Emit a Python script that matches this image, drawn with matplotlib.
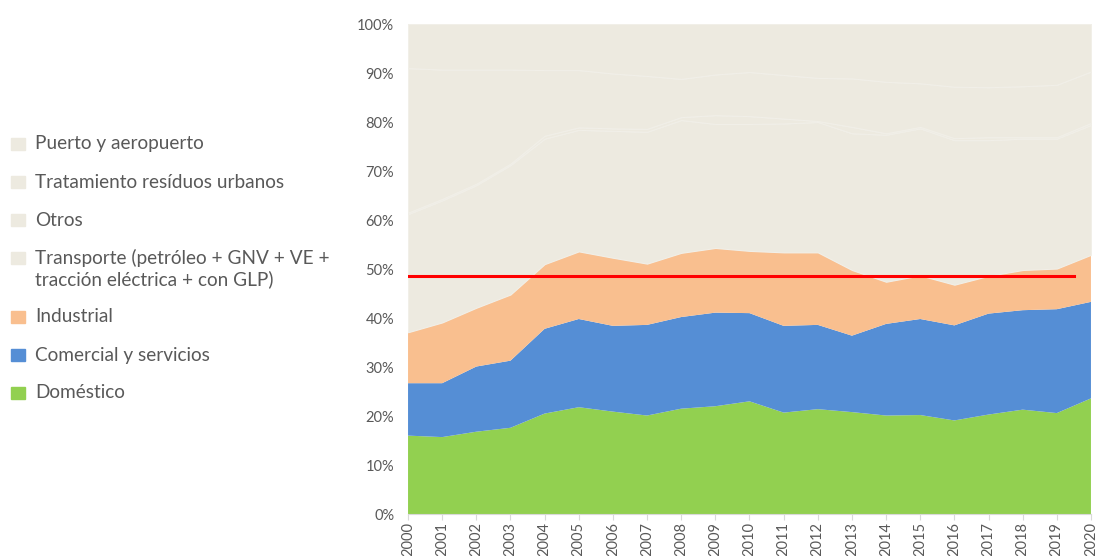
import numpy as np
import matplotlib.pyplot as plt
from matplotlib.patches import Rectangle
from matplotlib.ticker import PercentFormatter

plt.rcParams['font.family'] = ['Lato', 'DejaVu Sans']

years = list(range(2000, 2021))

# shares in %
domestico = [16.0, 15.7, 16.8, 17.6, 20.5, 21.8, 20.9, 20.1, 21.5, 22.0, 23.0,
             20.7, 21.4, 20.8, 20.1, 20.2, 19.1, 20.3, 21.3, 20.6, 23.6]
comercial = [10.7, 11.0, 13.3, 13.7, 17.3, 18.0, 17.5, 18.5, 18.7, 19.1, 18.0,
             17.7, 17.2, 15.6, 18.7, 19.6, 19.4, 20.6, 20.3, 21.2, 19.7]
industrial = [10.4, 12.4, 12.0, 13.5, 13.2, 13.8, 13.9, 12.5, 13.1, 13.2, 12.7,
              15.0, 14.8, 13.4, 8.6, 8.9, 8.3, 7.7, 8.2, 8.3, 9.6]
transporte = [24.1, 24.9, 25.0, 26.4, 25.6, 24.8, 25.9, 26.9, 27.1, 25.3, 25.9,
              26.3, 26.6, 27.9, 30.0, 30.0, 29.5, 27.7, 26.8, 26.5, 26.5]
otros = [0.3, 0.3, 0.3, 0.3, 0.6, 0.5, 0.5, 0.6, 0.6, 1.8, 1.6,
         1.0, 0.2, 1.3, 0.3, 0.3, 0.4, 0.6, 0.3, 0.3, 0.4]
residuos = [29.5, 26.4, 23.3, 19.2, 13.4, 11.7, 11.2, 10.8, 7.8, 8.3, 9.0,
            8.9, 8.8, 9.9, 10.5, 8.9, 10.5, 10.2, 10.4, 10.7, 10.5]
puerto = [9.0, 9.3, 9.3, 9.3, 9.4, 9.4, 10.1, 10.6, 11.2, 10.3, 9.8,
          10.4, 11.0, 11.1, 11.8, 12.1, 12.8, 12.9, 12.7, 12.4, 9.7]

labels = ["Doméstico", "Comercial y servicios", "Industrial",
          "Transporte (petróleo + GNV + VE +\ntracción eléctrica + con GLP)",
          "Otros", "Tratamiento resíduos urbanos", "Puerto y aeropuerto"]
colors = ["#92D050", "#558ED5", "#F9BF8F", "#EDEAE0", "#EDEAE0", "#EDEAE0", "#EDEAE0"]

ref_value = 48.6
ref_end = 2019.5

series = np.array([domestico, comercial, industrial, transporte, otros, residuos, puerto])
series = series / series.sum(axis=0) * 100

fig = plt.figure(figsize=(10.96, 5.56), dpi=100)
ax = fig.add_axes([0.3723, 0.0755, 0.6231, 0.8813])

polys = ax.stackplot(years, series, colors=colors, linewidth=0)
for p in polys[3:]:
    p.set_edgecolor("#F1EFE8")
    p.set_linewidth(0.8)

ax.plot([years[0], ref_end], [ref_value, ref_value], color="#FF0000", lw=2.2)

ax.set_xlim(years[0], years[-1])
ax.set_ylim(0, 100)
ax.set_xticks(years)
ax.set_xticklabels([str(y) for y in years], rotation=90)
ax.set_yticks(range(0, 101, 10))
ax.yaxis.set_major_formatter(PercentFormatter(decimals=0))
for s in ["top", "right", "left"]:
    ax.spines[s].set_visible(False)
ax.spines["bottom"].set_color("#D9D9D9")
ax.tick_params(axis="x", colors="#D9D9D9", labelcolor="#595959", labelsize=10.5, length=4, pad=2)
ax.tick_params(axis="y", length=0, labelcolor="#595959", labelsize=10.5, pad=10)

# manual legend, top entry first
line_h = 21
y = 144
for lab, col in zip(labels[::-1], colors[::-1]):
    n_lines = lab.count("\n") + 1
    fig.patches.append(Rectangle((11 / 1096, 1 - (y + 6) / 556), 14 / 1096, 12 / 556,
                                 transform=fig.transFigure, color=col))
    text_y = y + (n_lines - 1) * line_h / 2
    fig.text(35 / 1096, 1 - text_y / 556, lab, fontsize=13.7, color="#595959",
             va="center", linespacing=1.2)
    y += 38 + (n_lines - 1) * line_h

fig.savefig("out.png", dpi=100)
